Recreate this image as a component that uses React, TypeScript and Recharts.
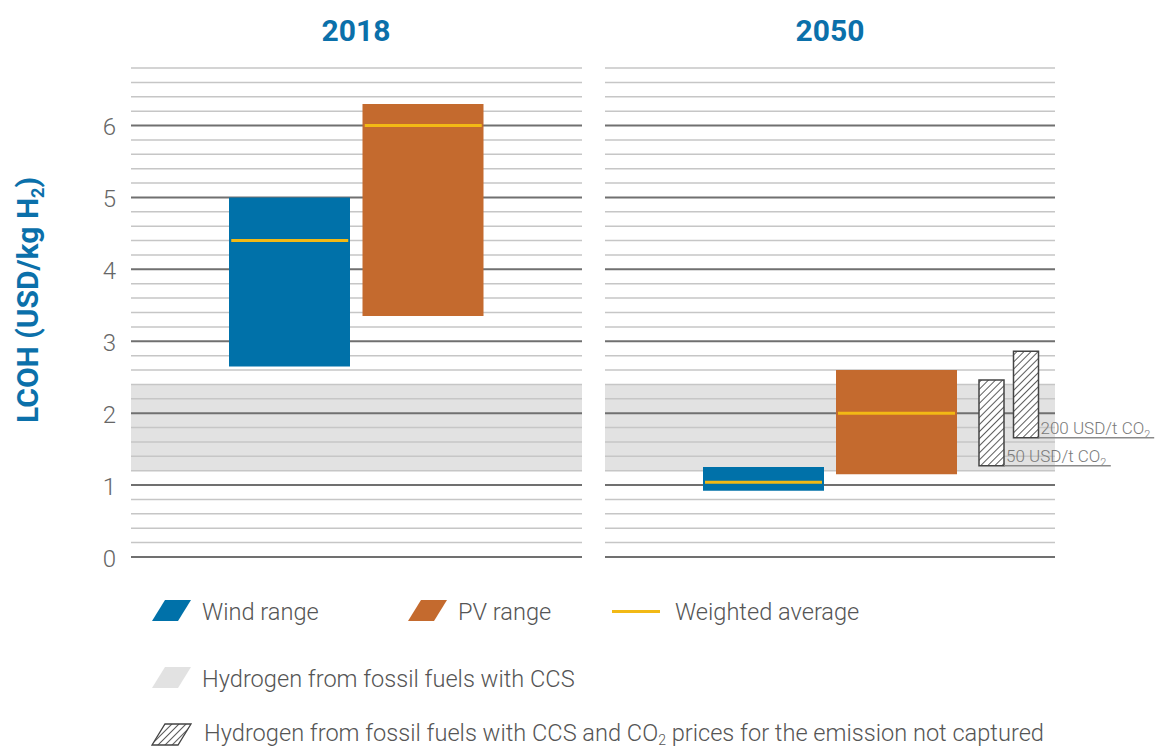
import React from "react";
import {
  ComposedChart,
  Bar,
  Scatter,
  XAxis,
  YAxis,
  ReferenceArea,
  ReferenceLine,
  Cell,
  LabelList,
} from "recharts";

// values
const categories = ["Wind range", "PV range"];
const range2018 = [
  [2.65, 5.0],
  [3.35, 6.3],
];
const avg2018 = [4.4, 6.0];
const range2050 = [
  [0.92, 1.25],
  [1.15, 2.6],
];
const avg2050 = [1.04, 2.0];
const ccsBand = [1.2, 2.4];
const co2Labels = ["50 USD/t CO₂", "200 USD/t CO₂"];
const co2Ranges = [
  [1.27, 2.46],
  [1.66, 2.86],
];
const majorTicks = [0, 1, 2, 3, 4, 5, 6];
const minorTicks = [
  0.2, 0.4, 0.6, 0.8, 1.2, 1.4, 1.6, 1.8, 2.2, 2.4, 2.6, 2.8, 3.2, 3.4, 3.6,
  3.8, 4.2, 4.4, 4.6, 4.8, 5.2, 5.4, 5.6, 5.8, 6.2, 6.4, 6.6, 6.8,
];
const yDomain = [0, 6.8];

const BLUE = "#0071a9";
const ORANGE = "#c46a2e";
const YELLOW = "#f2b915";
const BAND = "#e2e2e2";
const FONT = "Roboto, 'Open Sans', sans-serif";
const barColors = [BLUE, ORANGE];

const data2018 = categories.map((name, i) => ({
  name,
  range: range2018[i],
  avg: avg2018[i],
}));
const data2050 = categories.map((name, i) => ({
  name,
  range: range2050[i],
  avg: avg2050[i],
}));
const dataCo2 = co2Labels.map((label, i) => ({
  name: label,
  label,
  range: co2Ranges[i],
}));

const BAR_W = 121;
const CHART_H = 600;
const M_TOP = 68;
const M_BOTTOM = 43;

const AvgLine = (props: any) => {
  const { cx, cy } = props;
  if (cx == null || cy == null) return null;
  return (
    <line
      x1={cx - BAR_W / 2 + 2}
      x2={cx + BAR_W / 2 - 2}
      y1={cy}
      y2={cy}
      stroke={YELLOW}
      strokeWidth={3}
    />
  );
};

const Co2Label = (props: any) => {
  const vb = props.viewBox || props;
  const x = Number(vb.x);
  const y = Number(vb.y);
  const w = Number(vb.width);
  const h = Number(vb.height);
  const value = String(props.value);
  const base = value.replace("₂", "");
  const bx = x + w;
  const by = y + h;
  const len = value.length * 8.9;
  return (
    <g>
      <text
        x={bx + 2}
        y={by - 4}
        fill="#7a7a7a"
        fontSize={17}
        fontFamily={FONT}
        fontWeight={300}
      >
        {base}
        <tspan fontSize={11} dy={4}>
          2
        </tspan>
      </text>
      <line x1={bx} x2={bx + len} y1={by} y2={by} stroke="#8a8a8a" strokeWidth={1.5} />
    </g>
  );
};

// grid, band and axis labels (drawn behind the bars)
function Backdrop({ data, showAxis, width, left, right }: any) {
  return (
    <ComposedChart
      width={width}
      height={CHART_H}
      data={data}
      margin={{ top: M_TOP, right, bottom: M_BOTTOM, left: showAxis ? left - 60 : left }}
    >
      <XAxis xAxisId="cat" dataKey="name" hide />
      <XAxis xAxisId="full" type="number" domain={[0, 1]} hide />
      <YAxis
        domain={yDomain}
        ticks={majorTicks}
        hide={!showAxis}
        width={60}
        axisLine={false}
        tickLine={false}
        tickSize={0}
        tickMargin={15}
        tick={{ fill: "#666", fontSize: 24, fontFamily: FONT, fontWeight: 300, dy: 1 }}
      />
      {/* invisible series so the axes get laid out */}
      <Bar xAxisId="cat" dataKey="range" fill="none" isAnimationActive={false} />
      <ReferenceArea
        xAxisId="full"
        x1={0}
        x2={1}
        y1={ccsBand[0]}
        y2={ccsBand[1]}
        fill={BAND}
        fillOpacity={1}
        stroke="none"
      />
      {minorTicks.map((v) => (
        <ReferenceLine key={"m" + v} xAxisId="full" y={v} stroke="#c6c6c6" strokeWidth={1.5} />
      ))}
      {majorTicks.map((v) => (
        <ReferenceLine key={"M" + v} xAxisId="full" y={v} stroke="#707070" strokeWidth={2} />
      ))}
    </ComposedChart>
  );
}

function Bars({ data, width, left, right }: any) {
  return (
    <ComposedChart
      width={width}
      height={CHART_H}
      data={data}
      margin={{ top: M_TOP, right, bottom: M_BOTTOM, left }}
    >
      <XAxis dataKey="name" hide padding={{ left: 92, right: 92 }} />
      <YAxis domain={yDomain} hide />
      <Bar dataKey="range" barSize={BAR_W} isAnimationActive={false}>
        {data.map((d: any, i: number) => (
          <Cell key={d.name} fill={barColors[i]} />
        ))}
      </Bar>
      <Scatter dataKey="avg" shape={AvgLine} isAnimationActive={false} />
    </ComposedChart>
  );
}

const layer: React.CSSProperties = { position: "absolute", top: 0 };

const legendText: React.CSSProperties = {
  position: "absolute",
  fontFamily: FONT,
  fontWeight: 300,
  fontSize: 23.6,
  color: "#555",
  whiteSpace: "nowrap",
  lineHeight: "24px",
};

const titleStyle: React.CSSProperties = {
  position: "absolute",
  width: 200,
  top: 14,
  textAlign: "center",
  fontFamily: FONT,
  fontWeight: 700,
  fontSize: 30,
  color: "#0b70aa",
  lineHeight: "34px",
};

const Para = ({ fill, stroke }: { fill: string; stroke?: string }) => (
  <svg width={42} height={24} style={{ display: "block" }}>
    <polygon
      points="1,22 14,1 40,1 27,22"
      fill={fill}
      stroke={stroke || "none"}
      strokeWidth={1.3}
    />
  </svg>
);

export default function App() {
  return (
    <div
      style={{
        position: "fixed",
        left: 0,
        top: 0,
        width: 1155,
        height: 751,
        background: "#fff",
        overflow: "hidden",
      }}
    >
      <svg width={0} height={0} style={{ position: "absolute" }}>
        <defs>
          <pattern
            id="hatch"
            patternUnits="userSpaceOnUse"
            width={5}
            height={5}
            patternTransform="rotate(45)"
          >
            <rect width={5} height={5} fill="#fff" />
            <line x1={0} y1={0} x2={0} y2={5} stroke="#333" strokeWidth={1.6} />
          </pattern>
        </defs>
      </svg>

      {/* 2018 panel */}
      <div style={{ ...layer, left: 0 }}>
        <Backdrop data={data2018} showAxis width={600} left={131} right={18} />
      </div>
      <div style={{ ...layer, left: 0 }}>
        <Bars data={data2018} width={600} left={131} right={18} />
      </div>

      {/* 2050 panel */}
      <div style={{ ...layer, left: 590 }}>
        <Backdrop data={data2050} showAxis={false} width={565} left={15} right={100} />
      </div>
      <div style={{ ...layer, left: 590 }}>
        <Bars data={data2050} width={565} left={15} right={100} />
      </div>
      <div style={{ ...layer, left: 590 }}>
        <ComposedChart
          width={565}
          height={CHART_H}
          data={dataCo2}
          margin={{ top: M_TOP, right: 100, bottom: M_BOTTOM, left: 15 }}
        >
          <XAxis dataKey="name" hide padding={{ left: 369, right: 12 }} />
          <YAxis domain={yDomain} hide />
          <Bar
            dataKey="range"
            barSize={25}
            fill="url(#hatch)"
            stroke="#444"
            strokeWidth={1.5}
            isAnimationActive={false}
          >
            <LabelList dataKey="label" content={Co2Label} />
          </Bar>
        </ComposedChart>
      </div>

      {/* titles */}
      <div style={{ ...titleStyle, left: 256 }}>2018</div>
      <div style={{ ...titleStyle, left: 730 }}>2050</div>

      {/* y axis label */}
      <div
        style={{
          position: "absolute",
          left: 27,
          top: 300,
          transform: "translate(-50%, -50%) rotate(-90deg)",
          fontFamily: FONT,
          fontWeight: 700,
          fontSize: 30,
          color: "#0b70aa",
          whiteSpace: "nowrap",
        }}
      >
        LCOH (USD/kg H
        <span style={{ fontSize: 18, position: "relative", top: 6 }}>2</span>)
      </div>

      {/* legend */}
      <div style={{ position: "absolute", left: 151, top: 599 }}>
        <Para fill={BLUE} />
      </div>
      <div style={{ ...legendText, left: 202, top: 600 }}>Wind range</div>
      <div style={{ position: "absolute", left: 407, top: 599 }}>
        <Para fill={ORANGE} />
      </div>
      <div style={{ ...legendText, left: 458, top: 600 }}>PV range</div>
      <div
        style={{
          position: "absolute",
          left: 612,
          top: 610,
          width: 48,
          height: 3,
          background: YELLOW,
        }}
      />
      <div style={{ ...legendText, left: 675, top: 600 }}>Weighted average</div>

      <div style={{ position: "absolute", left: 151, top: 666 }}>
        <Para fill={BAND} />
      </div>
      <div style={{ ...legendText, left: 202, top: 667 }}>
        Hydrogen from fossil fuels with CCS
      </div>

      <div style={{ position: "absolute", left: 151, top: 723 }}>
        <Para fill="url(#hatch)" stroke="#444" />
      </div>
      <div style={{ ...legendText, left: 204, top: 722, lineHeight: "22px" }}>
        Hydrogen from fossil fuels with CCS and CO
        <span style={{ fontSize: 14, position: "relative", top: 4 }}>2</span> prices
        for the emission not captured
      </div>
    </div>
  );
}
